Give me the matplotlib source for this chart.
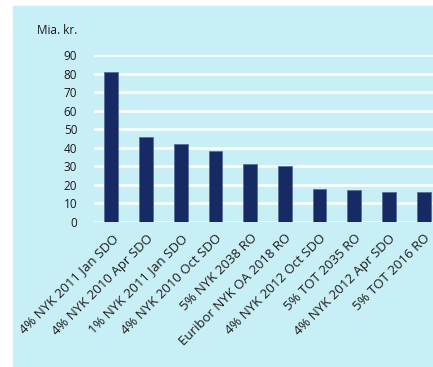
import matplotlib.pyplot as plt
from matplotlib.patches import Rectangle

plt.rcParams['font.family'] = ['Open Sans', 'DejaVu Sans']

labels = ['4% NYK 2011 Jan SDO', '4% NYK 2010 Apr SDO', '1% NYK 2011 Jan SDO',
          '4% NYK 2010 Oct SDO', '5% NYK 2038 RO', 'Euribor NYK OA 2018 RO',
          '4% NYK 2012 Oct SDO', '5% TOT 2035 RO', '4% NYK 2012 Apr SDO',
          '5% TOT 2016 RO']
values = [81, 46, 42, 38, 31, 30, 18, 17, 16, 16]
yticks = [0, 10, 20, 30, 40, 50, 60, 70, 80, 90]

W, H = 433, 367
fig = plt.figure(figsize=(W / 100, H / 100), dpi=100)
bg = '#c8eff5'
fig.patches.append(Rectangle((13 / W, 0), 1 - 13 / W, 1 - 6 / H,
                             transform=fig.transFigure, color=bg, zorder=-10))

ax = fig.add_axes([94 / W, 1 - 222 / H, (441 - 94) / W, (222 - 55) / H])
ax.set_zorder(5)
ax.set_facecolor('none')
x = range(len(values))
ax.bar(x, values, width=0.4, color='#172a63', edgecolor='#5a6f9a',
       linewidth=0.6, zorder=3)
ax.set_xlim(-0.5, len(values) - 0.5)
ax.set_ylim(0, 90)
ax.set_yticks(yticks)
ax.yaxis.grid(True, color='white', linewidth=1.8, zorder=1)
ax.set_axisbelow(True)
for s in ax.spines.values():
    s.set_visible(False)
ax.tick_params(length=0, labelsize=8.5, colors='#1a1a1a')
ax.tick_params(axis='y', pad=12)
ax.set_xticks(list(x))
ax.set_xticklabels(labels, rotation=45, ha='right', rotation_mode='anchor',
                   fontsize=9.5)
ax.tick_params(axis='x', pad=7)

fig.text(37 / W, 1 - 31 / H, 'Mia. kr.', fontsize=8.5, color='#1a1a1a',
         va='center', ha='left')

fig.savefig('out.png', dpi=100)
